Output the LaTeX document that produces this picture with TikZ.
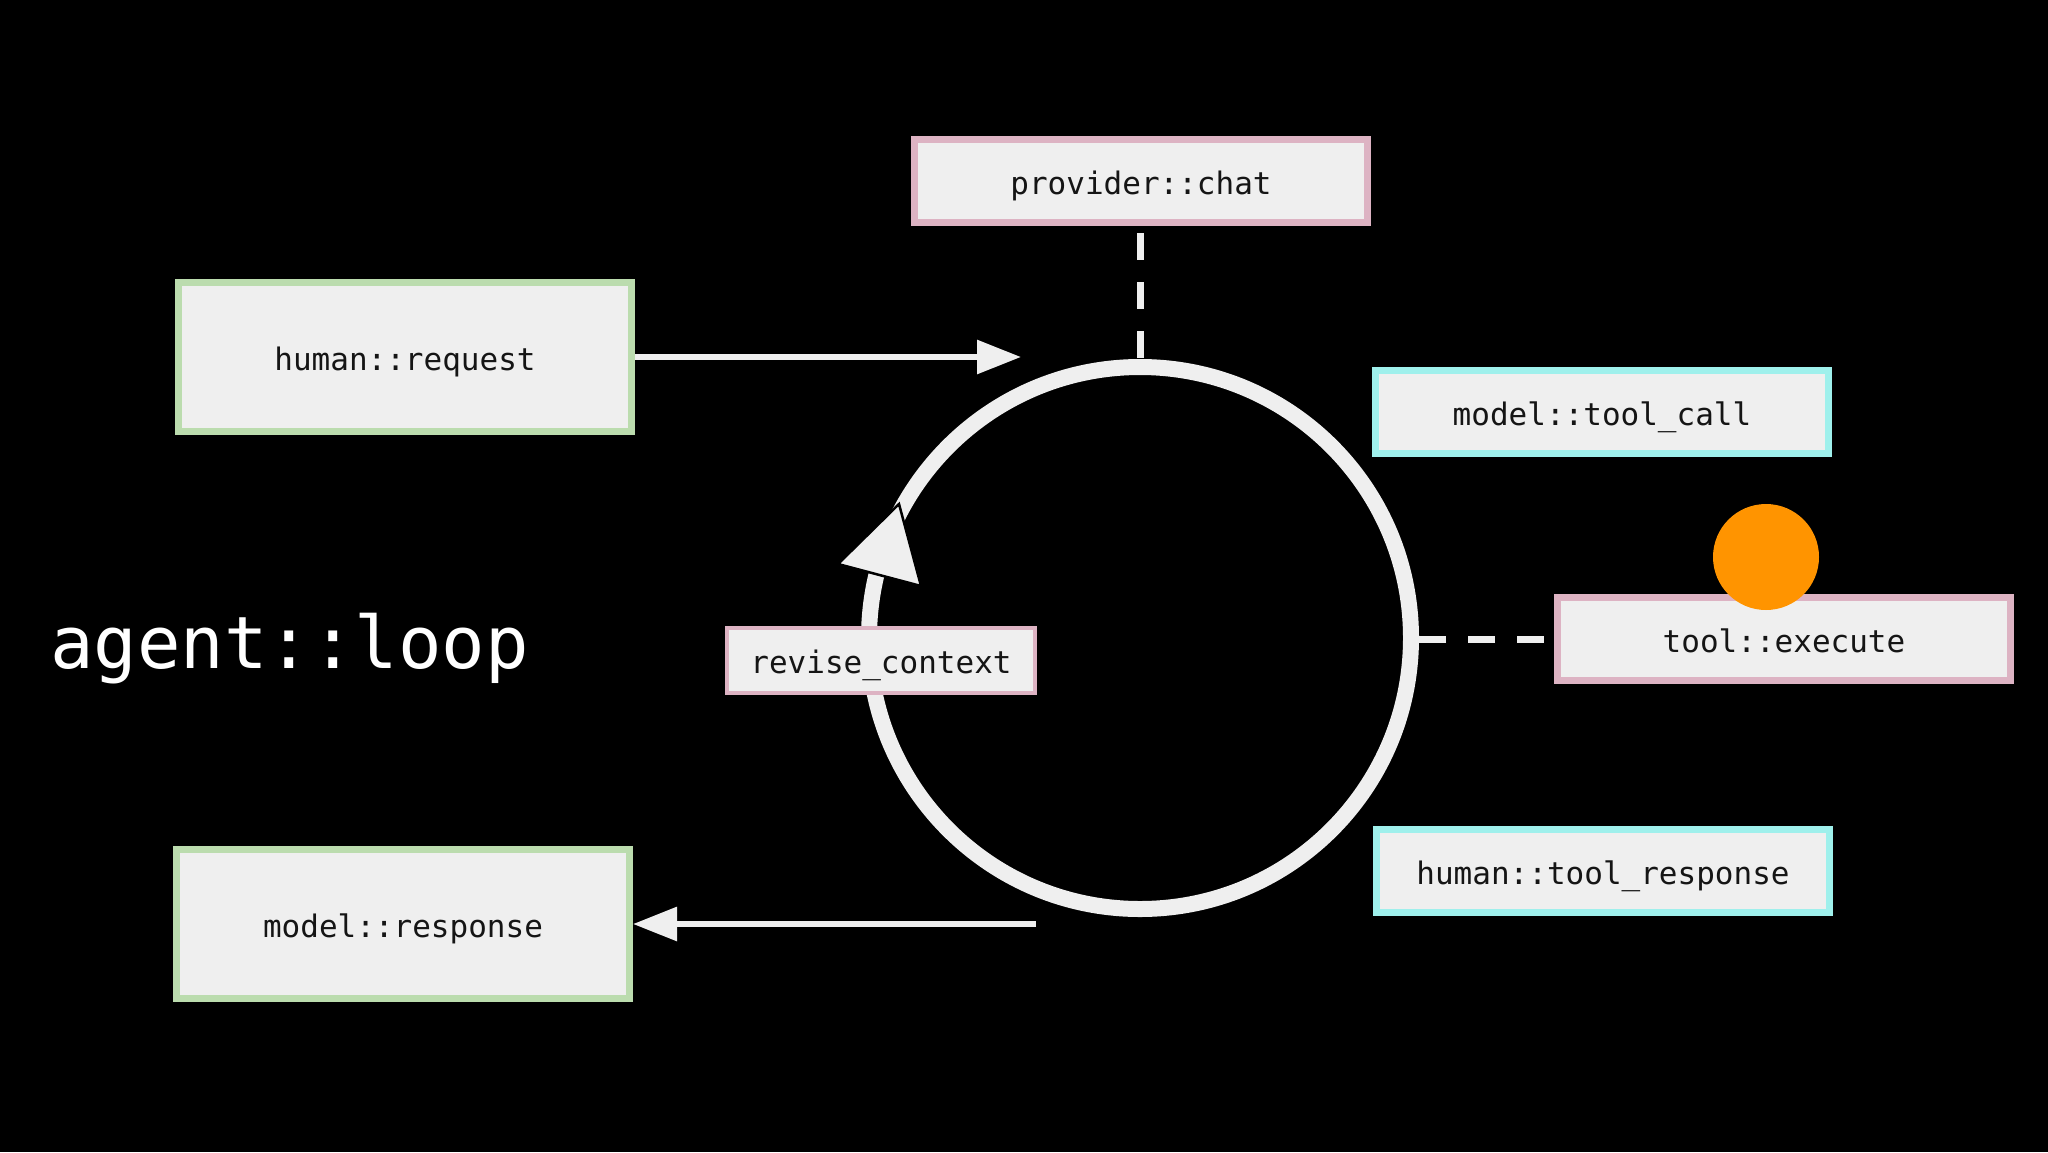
\documentclass[tikz,border=0pt]{standalone}
\usepackage{fontspec}
\setmonofont{DejaVu Sans Mono}
\usetikzlibrary{arrows.meta}
\definecolor{boxfill}{HTML}{EFEFEF}
\definecolor{pinkb}{HTML}{DDB3C3}
\definecolor{cyanb}{HTML}{9FF0EC}
\definecolor{greenb}{HTML}{BBDCAE}
\definecolor{orangec}{HTML}{FF9400}
\definecolor{linec}{HTML}{EFEFEF}
\definecolor{txt}{HTML}{151515}
\begin{document}
\begin{tikzpicture}[x=1pt,y=-1pt,
  box/.style={draw, fill=boxfill, line width=7pt, inner sep=0pt,
    text height=26pt, text depth=0pt,
    font=\ttfamily\fontsize{31}{36}\selectfont, text=txt},
  greenbox/.style={box, draw=greenb, minimum width=453pt, minimum height=149pt},
  pinkbox/.style={box, draw=pinkb, minimum width=453pt, minimum height=83pt},
  cyanbox/.style={box, draw=cyanb, minimum width=453pt, minimum height=83pt},
  smallbox/.style={box, draw=pinkb, line width=4pt, minimum width=308pt, minimum height=65pt},
  arr/.style={draw=linec, line width=6pt, -{Triangle[length=44pt,width=33pt]}},
  dashline/.style={draw=linec, line width=7pt, dash pattern=on 27pt off 22pt},
]
\fill[black] (0,0) rectangle (2048,1152);
\useasboundingbox (0,0) rectangle (2048,1152);

% main loop circle
\node[circle, draw=linec, line width=16pt, minimum size=542pt, inner sep=0pt] (loop) at (1140,638) {};

% boxes
\node[greenbox] (hreq) at (405,357) {human::request};
\node[greenbox] (mresp) at (403,924) {model::response};
\node[pinkbox] (prov) at (1141,181) {provider::chat};
\node[cyanbox] (tcall) at (1602,412) {model::tool\_call};
\node[pinkbox] (exec) at (1784,639) {tool::execute};
\node[cyanbox] (tresp) at (1603,871) {human::tool\_response};

% connectors
\coordinate (reqtip) at (1021,357);
\coordinate (respstart) at (1036,924);
\draw[arr] (hreq.east) -- (reqtip);
\draw[arr] (respstart) -- (mresp.east);
\draw[dashline] ([yshift=-7pt]prov.south -| loop.north) -- (loop.north);
\draw[dashline] ([xshift=-10pt]exec.west) -- (exec.west -| loop.east);

% arrowhead on circle
\draw[fill=boxfill, draw=black, line width=2.5pt, line join=miter]
  (899,504) -- (838,564) -- (921,586) -- cycle;

\node[smallbox] (rev) at (881,660) {revise\_context};

% orange dot
\node[circle, fill=orangec, minimum size=106pt, inner sep=0pt] (dot) at (1766,557) {};

% title
\node[anchor=base west, inner sep=0pt, text=white,
  font=\ttfamily\fontsize{72.3}{80}\selectfont] (title) at (50,668) {agent::loop};
\end{tikzpicture}
\end{document}
